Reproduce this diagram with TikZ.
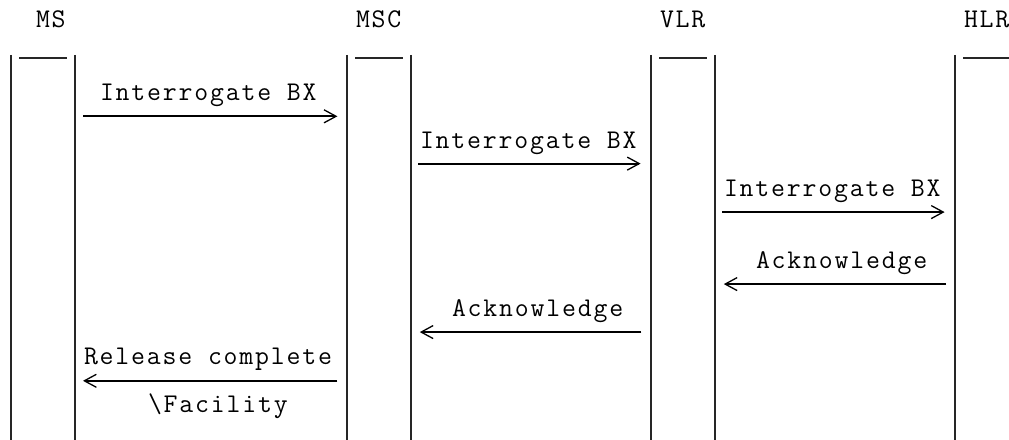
\documentclass[tikz,border=0pt]{standalone}
\usepackage{fontspec}
\newfontfamily\seqfont[LetterSpace=6.76]{Latin Modern Mono}
\usetikzlibrary{arrows.meta}
\tikzset{
    lbl/.style={anchor=base west, inner sep=0pt, font=\seqfont\fontsize{27pt}{32pt}\selectfont},
    lifeline/.style={line width=2pt, black!85},
    headbar/.style={line width=1.5pt, black!85},
    msg/.style={line width=2pt, -{Straight Barb[length=12pt, width=13pt, line width=1.3pt]}}
}
\begin{document}
\begin{tikzpicture}[x=16pt, y=-24pt]
        \useasboundingbox (-0.6875, -1.1667) rectangle (62.375, 17.125);
        % lifelines
        \draw [lifeline] (0, 1.125) -- (0, 17.3);
        \draw [lifeline] (4, 1.125) -- (4, 17.3);
        \draw [lifeline] (21, 1.125) -- (21, 17.3);
        \draw [lifeline] (25, 1.125) -- (25, 17.3);
        \draw [lifeline] (40, 1.125) -- (40, 17.3);
        \draw [lifeline] (44, 1.125) -- (44, 17.3);
        \draw [lifeline] (59, 1.125) -- (59, 17.3);
        \draw [headbar] (0.5, 1.25) -- (3.5, 1.25);
        \draw [headbar] (21.5, 1.25) -- (24.5, 1.25);
        \draw [headbar] (40.5, 1.25) -- (43.5, 1.25);
        \draw [headbar] (59.5, 1.25) -- (62.5, 1.25);
        \node [lbl] (ms) at (1.55, 0) {MS};
        \node [lbl] (msc) at (21.55, 0) {MSC};
        \node [lbl] (vlr) at (40.55, 0) {VLR};
        \node [lbl] (hlr) at (59.55, 0) {HLR};
        % requests
        \node [lbl] (req1) at (5.55, 3) {Interrogate BX};
        \coordinate (req1s) at (4.5, 3.68);
        \coordinate (req1e) at (20.4, 3.68);
        \draw [msg] (req1s) -- (req1e);
        \node [lbl] (req2) at (25.55, 5) {Interrogate BX};
        \coordinate (req2s) at (25.45, 5.65);
        \coordinate (req2e) at (39.35, 5.65);
        \draw [msg] (req2s) -- (req2e);
        \node [lbl] (req3) at (44.55, 7) {Interrogate BX};
        \coordinate (req3s) at (44.45, 7.67);
        \coordinate (req3e) at (58.35, 7.67);
        \draw [msg] (req3s) -- (req3e);
        % answers
        \node [lbl] (ack1) at (46.55, 10) {Acknowledge};
        \coordinate (ack1s) at (58.45, 10.67);
        \coordinate (ack1e) at (44.55, 10.67);
        \draw [msg] (ack1s) -- (ack1e);
        \node [lbl] (ack2) at (27.55, 12) {Acknowledge};
        \coordinate (ack2s) at (39.4, 12.67);
        \coordinate (ack2e) at (25.55, 12.67);
        \draw [msg] (ack2s) -- (ack2e);
        \node [lbl] (rel) at (4.55, 14) {Release complete};
        \coordinate (rels) at (20.4, 14.7);
        \coordinate (rele) at (4.5, 14.7);
        \draw [msg] (rels) -- (rele);
        \node [lbl] (fac) at (8.55, 16) {\textbackslash Facility};
    \end{tikzpicture}
\end{document}
